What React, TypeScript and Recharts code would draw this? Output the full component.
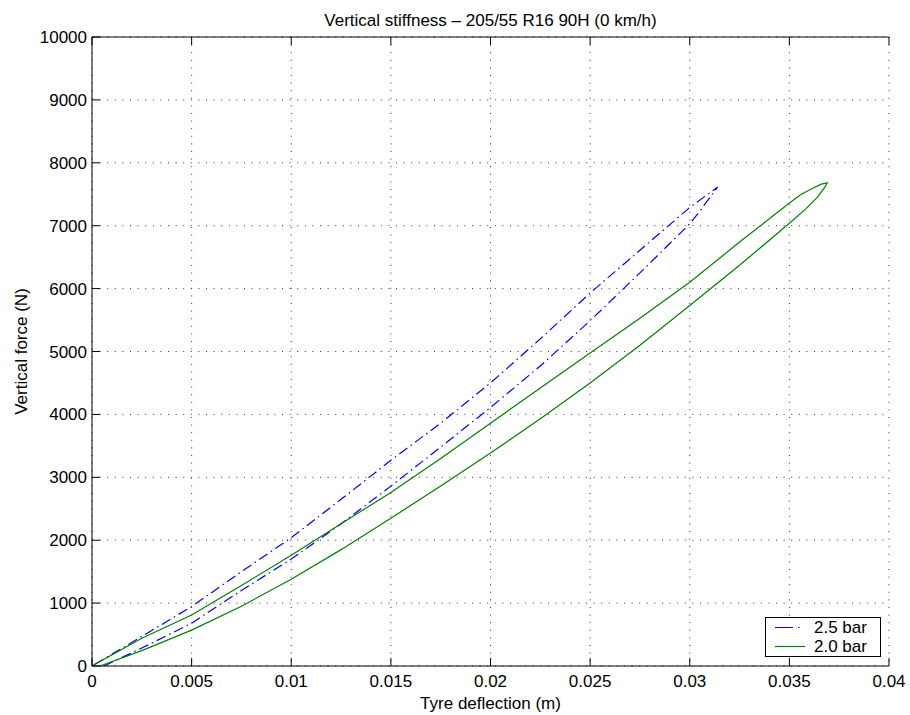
import { LineChart, Line, XAxis, YAxis, CartesianGrid } from 'recharts';

// Tyre deflection (m) / vertical force (N), hysteresis loops per inflation pressure
const xTicks = [0, 0.005, 0.01, 0.015, 0.02, 0.025, 0.03, 0.035, 0.04];
const yTicks = [0, 1000, 2000, 3000, 4000, 5000, 6000, 7000, 8000, 9000, 10000];

// 2.5 bar: loading branch, then unloading branch back from the peak
const blueLoadX = [0.0006, 0.0025, 0.005, 0.0075, 0.01, 0.0125, 0.015, 0.0175, 0.02, 0.0225, 0.025, 0.0275, 0.03, 0.0305, 0.0314];
const blueLoadF = [0, 285, 680, 1200, 1700, 2260, 2860, 3480, 4110, 4770, 5490, 6250, 7030, 7230, 7615];
const blueUnloadX = [0.0314, 0.031, 0.03, 0.0275, 0.025, 0.0225, 0.02, 0.0175, 0.015, 0.0125, 0.01, 0.0075, 0.005, 0.0025, 0];
const blueUnloadF = [7615, 7520, 7290, 6610, 5930, 5200, 4500, 3860, 3270, 2650, 2040, 1500, 945, 470, 0];

// 2.0 bar
const greenLoadX = [0.0004, 0.0025, 0.005, 0.0075, 0.01, 0.0125, 0.015, 0.0175, 0.02, 0.0225, 0.025, 0.0275, 0.03, 0.0325, 0.035, 0.0358, 0.0364, 0.0368, 0.0369];
const greenLoadF = [0, 245, 570, 950, 1380, 1850, 2350, 2860, 3385, 3930, 4500, 5100, 5730, 6370, 7040, 7260, 7450, 7620, 7680];
const greenUnloadX = [0.0369, 0.0366, 0.0362, 0.0356, 0.035, 0.0325, 0.03, 0.0275, 0.025, 0.0225, 0.02, 0.0175, 0.015, 0.0125, 0.01, 0.0075, 0.005, 0.0025, 0];
const greenUnloadF = [7680, 7660, 7600, 7500, 7360, 6740, 6100, 5530, 4975, 4420, 3860, 3300, 2760, 2260, 1760, 1280, 810, 440, 0];

const toPoints = (xs: number[], fs: number[]) => xs.map((x, i) => ({ x, f: fs[i] }));

const bluePath = [...toPoints(blueLoadX, blueLoadF), ...toPoints(blueUnloadX, blueUnloadF)];
const greenPath = [...toPoints(greenLoadX, greenLoadF), ...toPoints(greenUnloadX, greenUnloadF)];

const BLUE = '#0000ff';
const GREEN = '#008000';
const DASH_DOT = '10 4 1.5 4';
const FONT = '"Liberation Sans", Arial, Helvetica, sans-serif';
const FONT_SIZE = 17;
const TICK_LEN = 8;
const X_MARGIN = 9;
const Y_MARGIN = 5;

const BottomTick = (props: any) => {
  const { x, y, payload } = props;
  return (
    <g>
      <line x1={x} x2={x} y1={y - X_MARGIN} y2={y - X_MARGIN - TICK_LEN} stroke="#000" />
      <text x={x} y={y} dy="0.71em" textAnchor="middle" fontSize={FONT_SIZE} fill="#000">
        {String(payload.value)}
      </text>
    </g>
  );
};

const LeftTick = (props: any) => {
  const { x, y, payload } = props;
  return (
    <g>
      <line x1={x + Y_MARGIN} x2={x + Y_MARGIN + TICK_LEN} y1={y} y2={y} stroke="#000" />
      <text x={x} y={y} dy="0.355em" textAnchor="end" fontSize={FONT_SIZE} fill="#000">
        {String(payload.value)}
      </text>
    </g>
  );
};

const TopTick = (props: any) => {
  const { x, y } = props;
  return <line x1={x} x2={x} y1={y} y2={y + TICK_LEN} stroke="#000" />;
};

const RightTick = (props: any) => {
  const { x, y } = props;
  return <line x1={x} x2={x - TICK_LEN} y1={y} y2={y} stroke="#000" />;
};

const legendItems = [
  { name: '2.5 bar', color: BLUE, dash: '18 5 1.5 10' },
  { name: '2.0 bar', color: GREEN, dash: undefined },
];

export default function App() {
  return (
    <div
      style={{
        position: 'absolute',
        left: 0,
        top: 0,
        width: 910,
        height: 715,
        background: '#fff',
        fontFamily: FONT,
      }}
    >
      <LineChart width={910} height={715} margin={{ top: 0, right: 21, bottom: 0, left: 0 }}>
        <CartesianGrid xAxisId="bottom" yAxisId="left" stroke="#333" strokeDasharray="1 6.6" />
        <XAxis
          xAxisId="bottom"
          type="number"
          dataKey="x"
          domain={[0, 0.04]}
          ticks={xTicks}
          allowDataOverflow
          height={49}
          tickSize={0}
          tickMargin={X_MARGIN}
          tickLine={false}
          tick={<BottomTick />}
          axisLine={{ stroke: '#000' }}
          label={{
            value: 'Tyre deflection (m)',
            position: 'insideBottom',
            offset: 6,
            fill: '#000',
            fontSize: FONT_SIZE,
          }}
        />
        <XAxis
          xAxisId="top"
          orientation="top"
          type="number"
          dataKey="x"
          domain={[0, 0.04]}
          ticks={xTicks}
          allowDataOverflow
          height={37}
          tickSize={0}
          tickMargin={0}
          tickLine={false}
          tick={<TopTick />}
          axisLine={{ stroke: '#000' }}
          label={{
            value: 'Vertical stiffness \u2013 205/55 R16 90H (0 km/h)',
            position: 'insideBottom',
            offset: 11,
            fill: '#000',
            fontSize: FONT_SIZE,
          }}
        />
        <YAxis
          yAxisId="left"
          type="number"
          domain={[0, 10000]}
          ticks={yTicks}
          allowDataOverflow
          width={92}
          tickSize={0}
          tickMargin={Y_MARGIN}
          tickLine={false}
          tick={<LeftTick />}
          axisLine={{ stroke: '#000' }}
          label={{
            value: 'Vertical force (N)',
            angle: -90,
            position: 'insideLeft',
            offset: 21,
            fill: '#000',
            fontSize: FONT_SIZE,
            style: { textAnchor: 'middle' },
          }}
        />
        <YAxis
          yAxisId="right"
          orientation="right"
          type="number"
          domain={[0, 10000]}
          ticks={yTicks}
          allowDataOverflow
          width={0}
          tickSize={0}
          tickMargin={0}
          tickLine={false}
          tick={<RightTick />}
          axisLine={{ stroke: '#000' }}
        />
        <Line
          xAxisId="bottom"
          yAxisId="left"
          data={bluePath}
          dataKey="f"
          name="2.5 bar"
          type="linear"
          stroke={BLUE}
          strokeWidth={1.2}
          strokeDasharray={DASH_DOT}
          dot={false}
          activeDot={false}
          isAnimationActive={false}
        />
        <Line
          xAxisId="bottom"
          yAxisId="left"
          data={greenPath}
          dataKey="f"
          name="2.0 bar"
          type="linear"
          stroke={GREEN}
          strokeWidth={1.2}
          dot={false}
          activeDot={false}
          isAnimationActive={false}
        />
      </LineChart>
      <div
        style={{
          position: 'absolute',
          left: 765,
          top: 617,
          width: 114,
          height: 38,
          border: '1px solid #000',
          background: '#fff',
          fontSize: FONT_SIZE,
        }}
      >
        {legendItems.map((item, i) => (
          <div
            key={item.name}
            style={{ position: 'absolute', left: 0, top: i * 19, height: 19, width: 114, display: 'flex', alignItems: 'center' }}
          >
            <svg width={48} height={19} style={{ display: 'block' }}>
              <line
                x1={9}
                x2={39}
                y1={9.5}
                y2={9.5}
                stroke={item.color}
                strokeWidth={1.2}
                strokeDasharray={item.dash}
              />
            </svg>
            <span style={{ lineHeight: '19px', color: '#000' }}>{item.name}</span>
          </div>
        ))}
      </div>
    </div>
  );
}
